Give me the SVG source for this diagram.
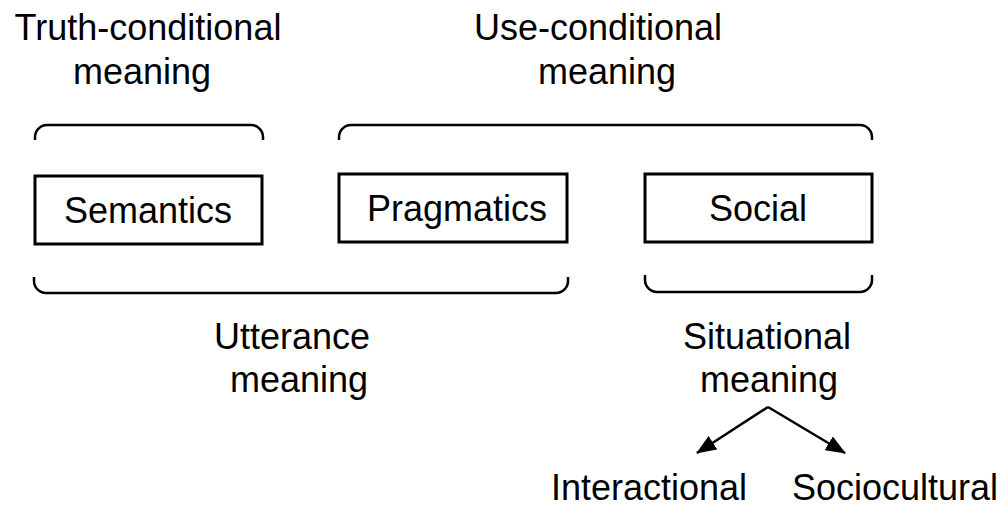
<svg xmlns="http://www.w3.org/2000/svg" width="1003" height="510" viewBox="0 0 1003 510">
<style>
text{font-family:"Liberation Sans",Arial,sans-serif;font-size:36px;fill:#000;text-anchor:middle}
.box{fill:#fff;stroke:#000;stroke-width:3}
.br{fill:none;stroke:#000;stroke-width:2.5}
.arr{fill:none;stroke:#000;stroke-width:2.5}
</style>
<defs>
<marker id="ah" markerWidth="8" markerHeight="8" refX="7" refY="4" orient="auto" markerUnits="userSpaceOnUse" viewBox="0 0 8 8">
<path d="M0,0 L8,4 L0,8 Z" fill="#000"/>
</marker>
<marker id="ah2" viewBox="0 0 20 16" refX="19" refY="8" markerWidth="20" markerHeight="16" orient="auto" markerUnits="userSpaceOnUse">
<path d="M0,0 L20,8 L0,16 Z" fill="#000"/>
</marker>
</defs>
<g id="labels">
<text x="148" y="40">Truth-conditional</text>
<text x="142" y="84">meaning</text>
<text x="598" y="40">Use-conditional</text>
<text x="607" y="84">meaning</text>
<text x="292" y="349">Utterance</text>
<text x="299" y="392">meaning</text>
<text x="767" y="349">Situational</text>
<text x="769" y="392">meaning</text>
</g>
<g id="semantics"><rect class="box" x="35" y="176" width="227" height="68"/><text x="148" y="223">Semantics</text></g>
<g id="pragmatics"><rect class="box" x="339" y="174" width="228" height="68"/><text x="457" y="221">Pragmatics</text></g>
<g id="social"><rect class="box" x="645" y="174" width="227" height="68"/><text x="758" y="221">Social</text></g>
<g id="interactional"><text x="649" y="500">Interactional</text></g>
<g id="sociocultural"><text x="895" y="500">Sociocultural</text></g>
<g id="connectors">
<path class="br" d="M35,140 V137 A12,12 0 0 1 47,125 H251 A12,12 0 0 1 263,137 V140"/>
<path class="br" d="M339,140 V137 A12,12 0 0 1 351,125 H860 A12,12 0 0 1 872,137 V140"/>
<path class="br" d="M34,277 V281 A12,12 0 0 0 46,293 H556 A12,12 0 0 0 568,281 V277"/>
<path class="br" d="M645,275 V280 A12,12 0 0 0 657,292 H860 A12,12 0 0 0 872,280 V275"/>
<path class="arr" d="M768,407 L697,453" marker-end="url(#ah2)"/>
<path class="arr" d="M768,407 L845,453" marker-end="url(#ah2)"/>
</g>
</svg>
